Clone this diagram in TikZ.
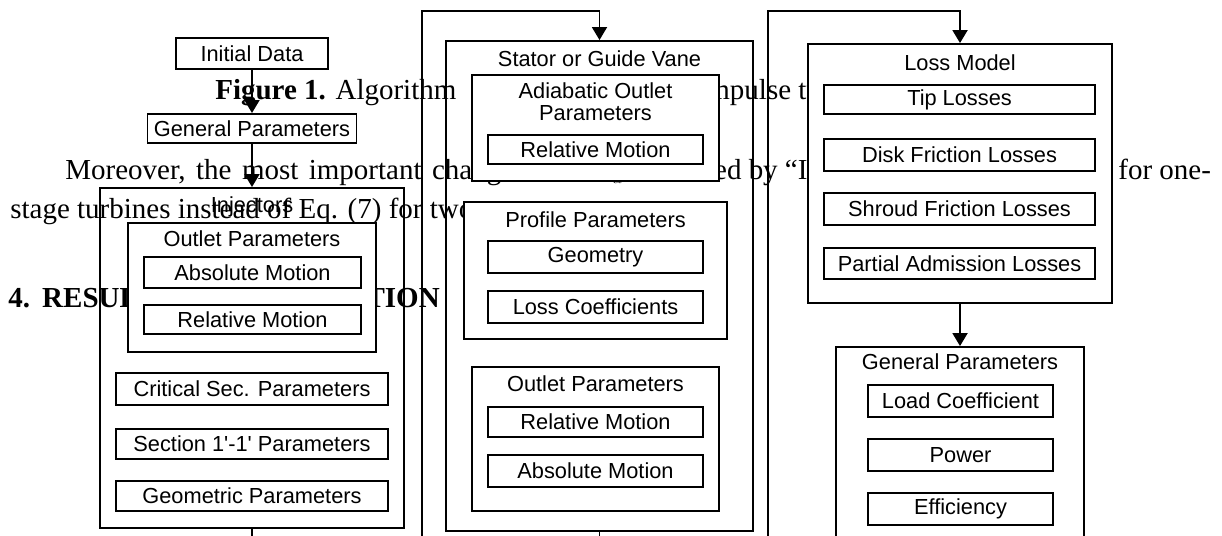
\documentclass[tikz,border=0pt]{standalone}
\usepackage{fontspec}
\setmainfont{Liberation Serif}
\setsansfont{Liberation Sans}[Ligatures=TeXOff]
\usetikzlibrary{arrows.meta}

\tikzset{
    blk/.style={draw, fill=white, line width=1.1pt, inner sep=0pt, font=\sffamily\fontsize{12.4}{12.4}\selectfont},
    frame/.style={draw, line width=1.1pt, inner sep=0pt},
    sz/.style 2 args={minimum width=#1*0.02cm, minimum height=#2*0.02cm},
    ttl/.style={inner sep=0pt, font=\sffamily\fontsize{12.4}{12.4}\selectfont},
    flow/.style={line width=1.1pt, -{Triangle[width=0.3cm,length=0.26cm]}},
    wire/.style={line width=1.1pt},
    body/.style={inner sep=0pt, anchor=base west, font=\fontsize{16.5}{20}\selectfont}
}

\begin{document}
\begin{tikzpicture}[x=0.02cm, y=-0.02cm]
        \useasboundingbox (0,0) rectangle (1222,535);
        \clip (0,0) rectangle (1222,535);

        % Page text behind the chart
        \node[body] (cap1) at (215,99) {\textbf{Figure 1.} Algorithm};
        \node[body] (cap2) at (699,99) {impulse turbines.};
        \node[body] (par1) at (65,179) {\spaceskip=0.36em Moreover, the most important change};
        \node[body] (par2) at (598,179) {$c_u$};
        \node[body] (par3) at (688,179) {used by ``I};
        \node[body] (par4) at (1118,179) {for one-};
        \node[body] (par5) at (10,218) {stage turbines instead of Eq. (7) for two};
        \node[body] (sec4) at (8,307) {\bfseries\spaceskip=0.39em\xspaceskip=0.42em 4. RESULTS AND VALIDATION};

        % Start
        \node[blk, sz={152}{31}] (init) at (252,53.5) {Initial Data};
        \node[blk, sz={209}{29}] (genp) at (252,128.5) {General Parameters};

        % Injectors
        \node[frame, sz={304}{340}] (inj) at (252,358) {};
        \node[ttl] (injT) at (252,207) {Injectors};
        \node[blk, sz={248}{129}] (injout) at (252,287.5) {};
        \node[ttl] (injoutT) at (252,239) {Outlet Parameters};
        \node[blk, sz={217}{31}] (injabs) at (252.5,272.5) {Absolute Motion};
        \node[blk, sz={217}{29}] (injrel) at (252.5,319.5) {Relative Motion};
        \node[blk, sz={272}{32}] (crit) at (252,389) {Critical Sec. Parameters};
        \node[blk, sz={272}{30}] (sect) at (252,444) {Section 1'-1' Parameters};
        \node[blk, sz={272}{30}] (geom) at (252,496) {Geometric Parameters};

        % Stator or guide vane
        \node[frame, sz={307}{490}] (stat) at (599.5,286) {};
        \node[ttl] (statT) at (599.5,58.5) {Stator or Guide Vane};
        \node[blk, sz={247}{106}] (adia) at (595.5,128) {};
        \node[ttl, align=center] (adiaT) at (595.5,102) {Adiabatic Outlet\\Parameters};
        \node[blk, sz={215}{29}] (adiarel) at (595.5,149.5) {Relative Motion};
        \node[blk, sz={263}{137}] (prof) at (595.5,270.5) {};
        \node[ttl] (profT) at (595.5,220) {Profile Parameters};
        \node[blk, sz={215}{32}] (profgeo) at (595.5,257) {Geometry};
        \node[blk, sz={215}{32}] (profloss) at (595.5,307) {Loss Coefficients};
        \node[blk, sz={247}{144}] (statout) at (595.5,439) {};
        \node[ttl] (statoutT) at (595.5,384) {Outlet Parameters};
        \node[blk, sz={215}{30}] (statrel) at (595.5,422) {Relative Motion};
        \node[blk, sz={215}{32}] (statabs) at (595.5,471) {Absolute Motion};

        % Loss model
        \node[blk, sz={304}{259}] (loss) at (960,173.5) {};
        \node[ttl] (lossT) at (960,63) {Loss Model};
        \node[blk, sz={271}{29}] (tip) at (959.5,99.5) {Tip Losses};
        \node[blk, sz={271}{32}] (disk) at (959.5,155) {Disk Friction Losses};
        \node[blk, sz={271}{32}] (shroud) at (959.5,209) {Shroud Friction Losses};
        \node[blk, sz={271}{31}] (partial) at (959.5,263.5) {Partial Admission Losses};

        % Results
        \node[blk, sz={248}{213}] (gen2) at (960,453.5) {};
        \node[ttl] (gen2T) at (960,362) {General Parameters};
        \node[blk, sz={185}{32}] (load) at (960.5,401) {Load Coefficient};
        \node[blk, sz={185}{32}] (power) at (960.5,455) {Power};
        \node[blk, sz={185}{32}] (eff) at (960.5,509) {Efficiency};

        % Connections
        \coordinate (injend) at (252,545);
        \coordinate (loopA) at (422,545);
        \coordinate (topA) at (422,11);
        \coordinate (statend) at (599.5,545);
        \coordinate (loopB) at (768,545);
        \coordinate (topB) at (768,11);

        \draw[flow] (init) -- (genp);
        \draw[flow] (genp) -- (inj);
        \draw[wire] (inj.south) -- (injend);
        \draw[flow] (loopA) -- (topA) -| (stat.north);
        \draw[wire] (stat.south) -- (statend);
        \draw[flow] (loopB) -- (topB) -| (loss.north);
        \draw[flow] (loss) -- (gen2);

\end{tikzpicture}
\end{document}
